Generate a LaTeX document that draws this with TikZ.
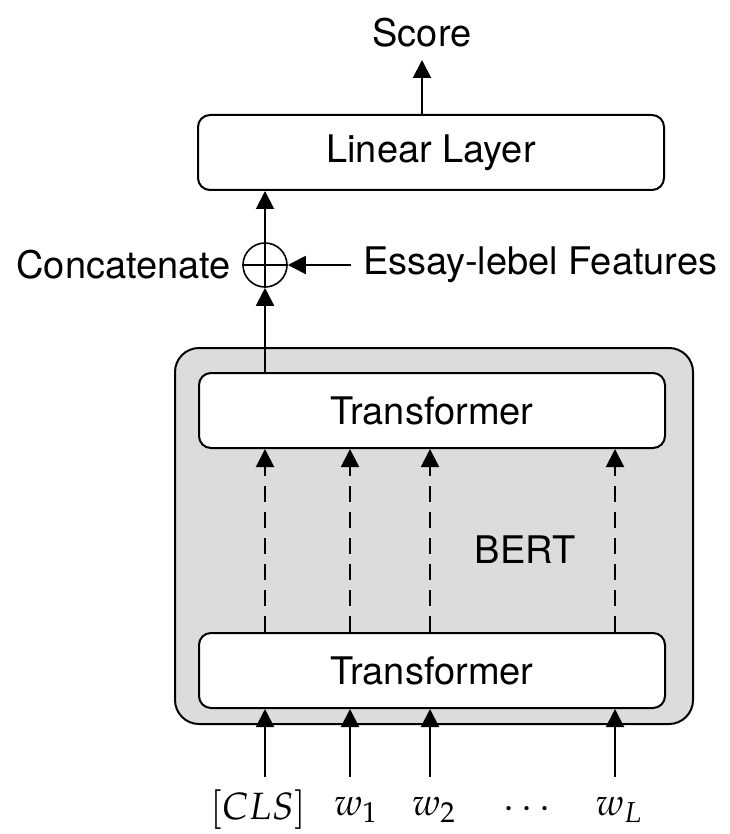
\documentclass[tikz,border=0pt]{standalone}
\usepackage{mathpazo}
\usepackage{fontspec}
\setmainfont{TeX Gyre Heros}
\usetikzlibrary{positioning,arrows.meta,backgrounds}
\definecolor{bertfill}{HTML}{dcdcdc}
\tikzset{
  layerbox/.style={draw, fill=white, rounded corners=6pt, line width=1pt,
                   minimum width=233pt, minimum height=37.5pt, inner sep=0pt,
                   font=\fontsize{19}{22}\selectfont},
  bertbox/.style={draw, fill=bertfill, rounded corners=12pt, line width=1pt,
                  minimum width=259pt, minimum height=188pt, inner sep=0pt},
  catnode/.style={circle, draw, line width=0.8pt, minimum size=22pt, inner sep=0pt},
  flowarrow/.style={-{Triangle[length=9pt,width=9pt]}, line width=1pt},
  hidarrow/.style={flowarrow, dash pattern=on 8pt off 5pt},
  lbl/.style={font=\fontsize{19}{22}\selectfont, inner sep=2pt},
  tok/.style={font=\fontsize{19}{22}\selectfont, inner sep=0pt}
}

\begin{document}
\begin{tikzpicture}[x=0.5pt, y=-0.5pt]
  \useasboundingbox (0,0) rectangle (729,834);

  % --- top: linear layer and score ---
  \node[layerbox] (linear) at (431,152.5) {Linear Layer};
  \node[lbl, anchor=south, inner sep=6pt] (score) at (422,60) {Score};
  \draw[flowarrow] (score.south |- linear.north) -- (score.south);

  % --- concatenation with essay-level features ---
  \node[catnode] (cat) at (265,265) {};
  \draw[line width=0.8pt] (cat.north) -- (cat.south) (cat.west) -- (cat.east);
  \node[lbl, left=3.5pt of cat] (catlbl) {Concatenate};
  \node[lbl, right=31.5pt of cat, inner sep=6pt] (essay) {Essay-lebel Features};
  \draw[flowarrow] (essay.west) -- (cat.east);
  \draw[flowarrow] (cat.north) -- (cat |- linear.south);

  % --- BERT: two transformer layers ---
  \node[layerbox] (upT) at (432,410.5) {Transformer};
  \node[layerbox] (lowT) at (432,670.5) {Transformer};
  \begin{pgfonlayer}{background}
    \node[bertbox] (bert) at (434,536) {};
  \end{pgfonlayer}
  \node[lbl] (bertlbl) at (525,550) {BERT};
  \draw[flowarrow] (cat |- upT.north) -- (cat.south);

  % --- input tokens ---
  \coordinate (in-cls) at (265,777);
  \coordinate (in-w1) at (350,777);
  \coordinate (in-w2) at (430,777);
  \coordinate (in-wl) at (615,777);
  \node[tok] (t-cls) at (258,810) {$[CLS]$};
  \node[tok] (t-w1) at (356,810) {$w_1$};
  \node[tok] (t-w2) at (434,810) {$w_2$};
  \node[tok] (t-dots) at (527,810) {$\cdots$};
  \node[tok] (t-wl) at (619,810) {$w_L$};

  % tokens into the lower layer
  \draw[flowarrow] (in-cls) -- (in-cls |- lowT.south);
  \draw[flowarrow] (in-w1) -- (in-w1 |- lowT.south);
  \draw[flowarrow] (in-w2) -- (in-w2 |- lowT.south);
  \draw[flowarrow] (in-wl) -- (in-wl |- lowT.south);

  % hidden states between the layers
  \draw[hidarrow] (in-cls |- lowT.north) -- (in-cls |- upT.south);
  \draw[hidarrow] (in-w1 |- lowT.north) -- (in-w1 |- upT.south);
  \draw[hidarrow] (in-w2 |- lowT.north) -- (in-w2 |- upT.south);
  \draw[hidarrow] (in-wl |- lowT.north) -- (in-wl |- upT.south);

\end{tikzpicture}
\end{document}
